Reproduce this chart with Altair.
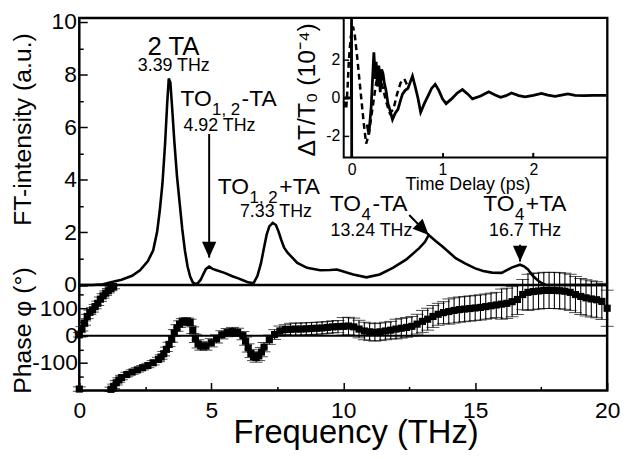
import altair as alt
import pandas as pd

# ---------------- data ----------------
ft_freq = [0.0, 0.5, 0.9, 1.2, 1.6, 2.0, 2.3, 2.6, 2.8, 2.95, 3.05, 3.15, 3.25, 3.33, 3.39, 3.45,
           3.52, 3.6, 3.7, 3.8, 3.9, 4.0, 4.1, 4.2, 4.3, 4.4, 4.5, 4.6, 4.7, 4.8, 4.92, 5.05, 5.2,
           5.5, 5.8, 6.0, 6.2, 6.4, 6.6, 6.75, 6.88, 7.0, 7.1, 7.2, 7.33, 7.45, 7.55, 7.65, 7.76,
           7.9, 8.26, 8.63, 9.13, 9.5, 9.76, 10.1, 10.38, 10.88, 11.38, 11.88, 12.38, 12.88, 13.1,
           13.24, 13.5, 13.76, 14.26, 14.63, 15.0, 15.3, 15.63, 16.0, 16.2, 16.4, 16.7, 16.85, 17.0,
           17.2, 17.4, 17.55, 17.7, 20.0]
ft_int = [0.0, 0.0, 0.03, 0.1, 0.2, 0.35, 0.56, 0.91, 1.32, 2.03, 2.84, 3.85, 5.37, 6.9, 7.85, 7.7,
          6.7, 5.47, 4.15, 3.14, 2.13, 1.32, 0.71, 0.32, 0.1, 0.03, 0.08, 0.2, 0.41, 0.61, 0.7, 0.61, 0.56,
          0.46, 0.33, 0.26, 0.18, 0.1, 0.06, 0.35, 0.81, 1.42, 1.92, 2.23, 2.36, 2.28, 2.03, 1.72, 1.42,
          1.22, 0.84, 0.65, 0.56, 0.57, 0.59, 0.48, 0.4, 0.29, 0.4, 0.65, 0.96, 1.4, 1.64,
          1.9, 1.67, 1.46, 1.02, 0.81, 0.63, 0.53, 0.47, 0.46, 0.56, 0.67, 0.77, 0.71, 0.59,
          0.33, 0.15, 0.05, 0.0, 0.0]

ph_freq = [0.0, 0.1, 0.2, 0.3, 0.4, 0.5, 0.6, 0.7, 0.8, 0.9, 1.0, 1.1, 1.2, 1.3,
           0.0, 1.2, 1.3, 1.4, 1.5, 1.6, 1.8, 2.0, 2.2, 2.4, 2.6, 2.8, 3.0, 3.1, 3.2, 3.3, 3.4,
           3.5, 3.6, 3.7, 3.8, 3.9, 4.0, 4.1, 4.2, 4.3, 4.4, 4.5, 4.6, 4.8, 5.0, 5.2, 5.4, 5.6,
           5.8, 6.0, 6.2, 6.3, 6.4, 6.5, 6.6, 6.7, 6.8, 6.9, 7.0, 7.2,
           7.4, 7.6, 7.8, 8.0, 8.2, 8.4, 8.6, 8.8, 9.0, 9.2, 9.4, 9.6, 9.8, 10.0, 10.2, 10.4,
           10.6, 10.8, 11.0, 11.2, 11.4, 11.6, 11.8, 12.0, 12.2, 12.4, 12.6, 12.8, 13.0, 13.2,
           13.4, 13.6, 13.8, 14.0, 14.2, 14.4, 14.6, 14.8, 15.0, 15.2, 15.4, 15.6, 15.8, 16.0,
           16.2, 16.4, 16.6, 16.8, 17.0, 17.2, 17.4, 17.6, 17.8, 18.0, 18.2, 18.4, 18.6, 18.8,
           19.0, 19.2, 19.4, 19.6, 19.8, 20.0]
ph_val = [3, 25, 46, 70, 85, 94, 106, 118, 133, 145, 155, 164, 172, 179,
          -195, -196, -185, -172, -162, -153, -142, -133, -125, -117, -109, -99, -87, -78, -66,
          -50, -32, -12, 10, 28, 42, 50, 53, 52, 48, 20, -10, -30, -38, -38, -26, -12, 3, 11,
          15, 12, 0, -20, -45, -65, -76, -80, -74, -60, -42, -15,
          4, 17, 22, 23, 24, 24, 25, 26, 27, 28, 30, 32, 33, 34, 35, 32,
          24, 17, 14, 12, 14, 17, 20, 24, 27, 30, 34, 42, 52, 60,
          70, 78, 84, 88, 92, 95, 97, 99, 101, 103, 106, 109, 112, 115,
          118, 124, 132, 150, 158, 161, 163, 165, 165, 165, 164, 162, 158, 150,
          143, 138, 134, 131, 125, 100]
ph_err = [8, 8, 8, 8, 8, 8, 8, 8, 8, 8, 8, 8, 8, 8,
          8, 8, 8, 8, 8, 8, 8, 8, 8, 8, 8, 8, 8, 8, 8, 8, 8,
          12, 12, 12, 12, 12, 12, 12, 12, 12, 15, 15, 15, 15, 15, 15, 15, 15,
          15, 15, 15, 15, 15, 15, 15, 17, 17, 17, 17, 17,
          18, 18, 18, 22, 22, 22, 22, 22, 22, 22, 22, 22, 22, 32, 32, 32,
          32, 32, 32, 32, 32, 32, 32, 36, 36, 36, 36, 36, 40, 40,
          40, 40, 40, 46, 46, 46, 46, 46, 46, 46, 46, 46, 46, 55,
          55, 55, 55, 55, 66, 66, 66, 66, 66, 66, 66, 66, 66, 66,
          66, 66, 66, 66, 66, 66]

dash_t = [-0.085, -0.06, -0.045, -0.03, -0.01, 0.015, 0.035, 0.06, 0.085, 0.11, 0.135, 0.16,
          0.185, 0.21, 0.24, 0.27, 0.3, 0.34, 0.38, 0.42, 0.46, 0.5, 0.54, 0.58, 0.62]
dash_v = [-0.2, -0.6, 0.5, 2.0, 3.2, 3.75, 3.3, 2.2, 1.0, -0.2, -1.4, -2.4,
          -2.0, -1.2, -0.2, 0.8, 1.2, 0.6, -0.2, -0.8, -0.6, 0.2, 0.8, 1.0, 0.6]

solid_seg = ["a"] * 4 + ["b"] * 57
solid_t = [-0.087, -0.003, -0.001, 0.001,
           0.17, 0.19, 0.215, 0.245, 0.26, 0.27, 0.285, 0.3, 0.315, 0.33, 0.345, 0.36, 0.38,
           0.4, 0.42, 0.45, 0.48, 0.51, 0.54, 0.56, 0.59, 0.62, 0.67, 0.7, 0.73, 0.76, 0.8,
           0.84, 0.88, 0.92, 0.96, 1.0, 1.04, 1.1, 1.16, 1.22, 1.28, 1.33, 1.42, 1.51, 1.58,
           1.64, 1.7, 1.76, 1.84, 1.91, 2.0, 2.09, 2.16, 2.24, 2.31, 2.38, 2.46, 2.56, 2.66,
           2.73, 2.8]
solid_v = [0.0, 0.0, 4.2, -3.12,
           -1.4, -1.9, -0.5, 2.4, 1.0, 1.9, 0.6, 1.7, 0.3, 1.5, 1.3, 0.8, 0.35,
           -0.3, -0.6, -1.13, -0.8, -0.6, -0.1, 0.2, 0.4, 0.5, 1.15, 0.6, 0.0, -0.75, -0.3,
           0.1, 0.5, 0.72, 0.4, -0.05, -0.3, -0.05, 0.25, 0.44, 0.2, -0.05, 0.1, 0.32, 0.15,
           0.03, 0.12, 0.26, 0.12, 0.06, 0.14, 0.24, 0.15, 0.08, 0.15, 0.21, 0.14, 0.12, 0.14,
           0.13, 0.13]

peak_label = ["2 TA"]
peak_label_f = [3.565]
peak_label_i = [8.75]

thz_labels = ["3.39 THz", "4.92 THz", "7.33 THz", "13.24 THz", "16.7 THz"]
thz_f = [3.58, 5.31, 7.45, 11.07, 16.89]
thz_i = [8.12, 5.86, 2.59, 1.86, 1.86]

mode_main = ["TO", "-TA", "TO", "+TA", "TO", "-TA", "TO", "+TA"]
mode_main_f = [3.83, 6.15, 5.25, 7.58, 9.49, 11.11, 15.31, 16.92]
mode_main_i = [6.8, 6.8, 3.47, 3.47, 2.81, 2.81, 2.81, 2.81]
mode_sub = ["1, 2", "1, 2", "4", "4"]
mode_sub_f = [5.03, 6.45, 10.69, 16.51]
mode_sub_i = [6.46, 3.11, 2.47, 2.47]

arrow_tail_f = [4.92, 12.5, 16.7]
arrow_tail_i = [5.74, 2.66, 1.53]
arrow_tip_f = [4.92, 13.24, 16.7]
arrow_tip_i = [1.04, 1.9, 0.89]

freq_ticks = [0, 5, 10, 15, 20]
freq_minor = [2.5, 7.5, 12.5, 17.5]
ft_ticks = [0, 2, 4, 6, 8, 10]
ft_minor = [1, 3, 5, 7, 9]
ph_ticks = [-100, 0, 100]
ph_minor = [-150, -50, 50, 150]
time_ticks = [0, 1, 2]
dt_ticks = [-2, 0, 2]

# ---------------- layout ----------------
FONT = "Liberation Sans"
W, H = 533, 376
FT_Y0 = 269.5
INSET_B = 140.7
INSET_L = 267
T_DOM = [-0.087, 2.813]
V_DOM = [-3.125, 4.2]

xF = alt.Scale(domain=[0, 20], range=[0, W], nice=False, zero=False)
yFT = alt.Scale(domain=[0, 10.15], range=[FT_Y0, 0], nice=False, zero=False)
yPh = alt.Scale(domain=[-200, 185], range=[H, FT_Y0], nice=False, zero=False)
xT = alt.Scale(domain=T_DOM, range=[INSET_L, W], nice=False, zero=False)
yT = alt.Scale(domain=V_DOM, range=[INSET_B, 0], nice=False, zero=False)

LBL = "'' + datum.value"


def tick_axis(orient, offset, values, size):
    return alt.Axis(orient=orient, offset=offset, values=values, labels=False, domain=False,
                    ticks=True, tickSize=size, tickWidth=1.5, tickColor="black",
                    title=None, grid=False, zindex=2)


def tick_layer(xs, xscale, xorient, xoff, xsize, ys, yscale, yorient, yoff, ysize):
    n = max(len(xs), len(ys))
    df = pd.DataFrame({"a": (xs * n)[:n], "b": (ys * n)[:n]})
    return alt.Chart(df).mark_point(opacity=0).encode(
        x=alt.X("a:Q", scale=xscale, axis=tick_axis(xorient, xoff, xs, xsize)),
        y=alt.Y("b:Q", scale=yscale, axis=tick_axis(yorient, yoff, ys, ysize)),
    )


ticks_a = tick_layer(freq_ticks, xF, "top", -H, 8, ft_ticks, yFT, "right", -W, 8)
ticks_b = tick_layer(freq_minor, xF, "top", -H, 4, ft_minor, yFT, "right", -W, 4)
ticks_c = tick_layer(time_ticks[1:], xT, "top", -INSET_B, 5, ph_ticks, yPh, "right", -W, 8)
ticks_d = tick_layer(time_ticks[1:], xT, "top", -INSET_B, 5, ph_minor, yPh, "right", -W, 4)
ticks_e = tick_layer(time_ticks[1:], xT, "top", -INSET_B, 5, dt_ticks, yT, "right", -(W - INSET_L), 5)

ft_df = pd.DataFrame({"f": ft_freq, "i": ft_int})
ft_line = alt.Chart(ft_df).mark_line(color="black", strokeWidth=2.6).encode(
    x=alt.X("f:Q", scale=xF, axis=alt.Axis(
        orient="bottom", values=freq_ticks, labelFontSize=23, labelPadding=9, tickSize=0,
        domain=False, labelFlush=False, labelOverlap=False, labelExpr=LBL,
        title="Frequency (THz)", titleFontSize=33, titleX=279, titleY=53,
        titleAlign="center", titleBaseline="alphabetic")),
    y=alt.Y("i:Q", scale=yFT, axis=alt.Axis(
        orient="left", values=ft_ticks, labelFontSize=23, labelPadding=3, tickSize=0,
        domain=False, labelFlush=False, labelOverlap=False, labelExpr=LBL,
        title="FT-intensity (a.u.)", titleFontSize=25, titleX=-57, titleY=112,
        titleAngle=270, titleAlign="center", titleBaseline="middle")),
)

ft_zero = alt.Chart(pd.DataFrame({"z": [0]})).mark_rule(color="black", strokeWidth=2.5).encode(
    y=alt.Y("z:Q", scale=yFT, axis=None))
ph_zero = alt.Chart(pd.DataFrame({"z": [0]})).mark_rule(color="black", strokeWidth=2).encode(
    y=alt.Y("z:Q", scale=yPh, axis=None))

ph_df = pd.DataFrame({"f": ph_freq, "p": ph_val, "e": ph_err})
ph_df["lo"] = ph_df["p"] - ph_df["e"]
ph_df["hi"] = ph_df["p"] + ph_df["e"]

ph_bars = alt.Chart(ph_df).mark_rule(color="black", strokeWidth=1.1).encode(
    x=alt.X("f:Q", scale=xF, axis=None),
    y=alt.Y("lo:Q", scale=yPh, axis=alt.Axis(
        orient="left", values=ph_ticks, labelFontSize=23, labelPadding=2, tickSize=0,
        domain=False, labelFlush=False, labelOverlap=False, labelExpr=LBL,
        title="Phase φ (°)", titleFontSize=25, titleX=-57, titleY=315,
        titleAngle=270, titleAlign="center", titleBaseline="middle")),
    y2="hi:Q",
)
ph_cap_hi = alt.Chart(ph_df).mark_tick(color="black", orient="horizontal", size=13, thickness=1).encode(
    x=alt.X("f:Q", scale=xF, axis=None), y=alt.Y("hi:Q", scale=yPh, axis=None))
ph_cap_lo = alt.Chart(ph_df).mark_tick(color="black", orient="horizontal", size=13, thickness=1).encode(
    x=alt.X("f:Q", scale=xF, axis=None), y=alt.Y("lo:Q", scale=yPh, axis=None))
ph_pts = alt.Chart(ph_df).mark_square(color="black", size=52, opacity=1).encode(
    x=alt.X("f:Q", scale=xF, axis=None), y=alt.Y("p:Q", scale=yPh, axis=None))


def text_layer(texts, fs, ints, size, align):
    df = pd.DataFrame({"t": texts, "f": fs, "i": ints})
    return alt.Chart(df).mark_text(font=FONT, fontSize=size, align=align, baseline="alphabetic",
                                   color="black").encode(
        x=alt.X("f:Q", scale=xF, axis=None), y=alt.Y("i:Q", scale=yFT, axis=None), text="t:N")


t_peak = text_layer(peak_label, peak_label_f, peak_label_i, 26, "center")
t_thz = text_layer(thz_labels, thz_f, thz_i, 18, "center")
t_main = text_layer(mode_main, mode_main_f, mode_main_i, 23, "left")
t_sub = text_layer(mode_sub, mode_sub_f, mode_sub_i, 17, "left")

arr_df = pd.DataFrame({"f0": arrow_tail_f, "i0": arrow_tail_i, "f1": arrow_tip_f, "i1": arrow_tip_i})
arr_rules = alt.Chart(arr_df).mark_rule(color="black", strokeWidth=2).encode(
    x=alt.X("f0:Q", scale=xF, axis=None), y=alt.Y("i0:Q", scale=yFT, axis=None),
    x2="f1:Q", y2="i1:Q")
HEAD = "M0,0L-0.45,-1L0.45,-1Z"
arr_heads_v = alt.Chart(arr_df.iloc[[0, 2]]).mark_point(
    shape=HEAD, size=1024, filled=True, color="black", opacity=1, strokeWidth=0).encode(
    x=alt.X("f1:Q", scale=xF, axis=None), y=alt.Y("i1:Q", scale=yFT, axis=None))
arr_heads_d = alt.Chart(arr_df.iloc[[1]]).mark_point(
    shape=HEAD, size=1024, filled=True, color="black", opacity=1, strokeWidth=0, angle=315).encode(
    x=alt.X("f1:Q", scale=xF, axis=None), y=alt.Y("i1:Q", scale=yFT, axis=None))

box_df = pd.DataFrame({"t0": [T_DOM[0]], "t1": [T_DOM[1]], "v0": [V_DOM[0]], "v1": [V_DOM[1]]})
inset_box = alt.Chart(box_df).mark_rect(fill="white", stroke="black", strokeWidth=2).encode(
    x=alt.X("t0:Q", scale=xT, axis=alt.Axis(
        orient="bottom", offset=-(H - INSET_B), values=time_ticks, labelFontSize=16,
        labelPadding=4, tickSize=0, domain=False, labelFlush=False, labelOverlap=False,
        labelExpr=LBL, title="Time Delay (ps)", titleFontSize=18, titleX=392, titleY=32,
        titleAlign="center", titleBaseline="alphabetic")),
    x2="t1:Q",
    y=alt.Y("v0:Q", scale=yT, axis=alt.Axis(
        orient="left", offset=-INSET_L, values=dt_ticks, labelFontSize=16, labelPadding=4,
        tickSize=0, domain=False, labelFlush=False, labelOverlap=False, labelExpr=LBL,
        title="ΔT/T₀ (10⁻⁴)", titleFontSize=25, titleX=-37, titleY=72,
        titleAngle=270, titleAlign="center", titleBaseline="middle")),
    y2="v1:Q",
)

dash_df = pd.DataFrame({"t": dash_t, "v": dash_v})
inset_dash = alt.Chart(dash_df).mark_line(color="black", strokeWidth=2.5, strokeDash=[6, 4]).encode(
    x=alt.X("t:Q", scale=xT, axis=None), y=alt.Y("v:Q", scale=yT, axis=None))
solid_df = pd.DataFrame({"t": solid_t, "v": solid_v, "s": solid_seg})
inset_solid = alt.Chart(solid_df).mark_line(color="black", strokeWidth=2.8).encode(
    x=alt.X("t:Q", scale=xT, axis=None), y=alt.Y("v:Q", scale=yT, axis=None), detail="s:N")

chart = alt.layer(
    ft_zero, ph_zero, ph_bars, ph_cap_hi, ph_cap_lo, ph_pts, ft_line,
    arr_rules, arr_heads_v, arr_heads_d, t_peak, t_thz, t_main, t_sub,
    inset_box, inset_dash, inset_solid,
    ticks_a, ticks_b, ticks_c, ticks_d, ticks_e,
).resolve_scale(x="independent", y="independent").properties(
    width=W, height=H,
    autosize=alt.AutoSizeParams(type="none"),
    padding={"left": 72, "top": 8, "right": 15, "bottom": 59},
    background="white",
).configure_view(stroke="black", strokeWidth=2.5).configure_axis(
    grid=False, labelFont=FONT, titleFont=FONT, labelColor="black", titleColor="black",
    titleFontWeight="normal",
)

chart.save("out.html", embed_options={"renderer": "svg", "actions": False})
